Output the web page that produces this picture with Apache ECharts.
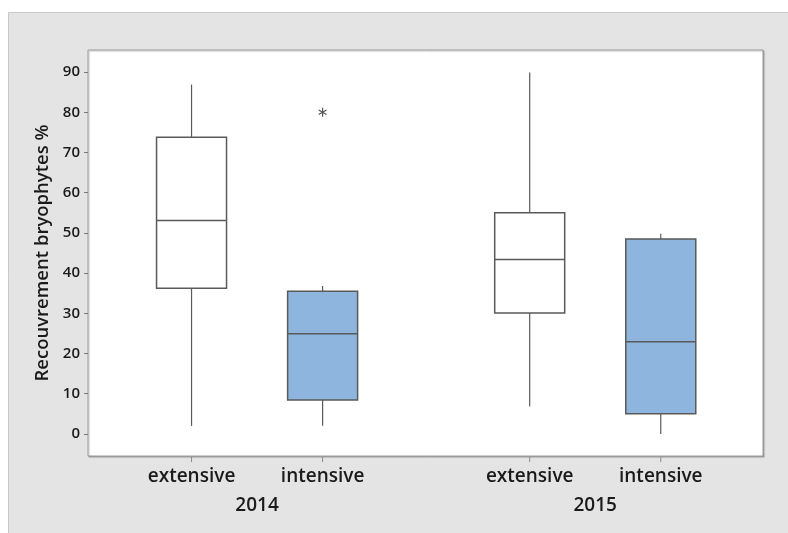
<!DOCTYPE html>
<html>
<head>
<meta charset="utf-8">
<script src="https://cdn.jsdelivr.net/npm/echarts@6/dist/echarts.min.js"></script>
<style>
  html, body { margin: 0; padding: 0; background: #ffffff; }
  #chart { width: 788px; height: 533px; }
</style>
</head>
<body>
<div id="chart"></div>
<script>
// Groups and their positions along the horizontal value axis
const categories = ['extensive', 'intensive', 'extensive', 'intensive'];
const positions = [1, 2, 3.58, 4.58];
const years = ['2014', '2015'];
const yearPositions = [1.5, 4.08];
const treatment = ['extensive', 'intensive', 'extensive', 'intensive'];

// Five-number summaries per box: [lower whisker, Q1, median, Q3, upper whisker]
const lowerWhisker = [2.0, 2.0, 6.8, 0.0];
const q1 = [36.2, 8.4, 30.1, 5.0];
const median = [53.1, 24.9, 43.4, 22.9];
const q3 = [73.8, 35.5, 55.0, 48.5];
const upperWhisker = [86.9, 36.8, 89.9, 49.8];

// Outliers: [position, value]
const outlierPos = [2];
const outlierVal = [80];

const yTicks = [0, 10, 20, 30, 40, 50, 60, 70, 80, 90];
const Y_MIN = -5.5;
const Y_MAX = 95.5;

const FONT = "'Open Sans', 'Noto Sans', sans-serif";
const TEXT = '#1a1a1a';
const LINE = '#5a5a5a';
const FILL_INT = '#8db5de';

const boxData = positions.map((p, i) => [p, lowerWhisker[i], q1[i], median[i], q3[i], upperWhisker[i], i]);
const outlierData = outlierPos.map((p, i) => [p, outlierVal[i]]);

const chart = echarts.init(document.getElementById('chart'), null, { renderer: 'canvas' });

const HALF_BOX = 0.267; // half box width, in axis units

function renderBox(params, api) {
  const x = api.value(0);
  const idx = api.value(6);
  const pLow = api.coord([x, api.value(1)]);
  const pQ1 = api.coord([x, api.value(2)]);
  const pMed = api.coord([x, api.value(3)]);
  const pQ3 = api.coord([x, api.value(4)]);
  const pHigh = api.coord([x, api.value(5)]);
  const pBase = api.coord([x, Y_MIN]);
  const left = api.coord([x - HALF_BOX, 0])[0];
  const right = api.coord([x + HALF_BOX, 0])[0];
  const fill = treatment[idx] === 'intensive' ? FILL_INT : '#ffffff';
  const lineStyle = { stroke: LINE, lineWidth: 1.2 };
  return {
    type: 'group',
    children: [
      // category tick below the plot frame
      { type: 'line', shape: { x1: pBase[0], y1: pBase[1] + 1, x2: pBase[0], y2: pBase[1] + 6 },
        style: { stroke: '#8a8a8a', lineWidth: 1 } },
      { type: 'line', shape: { x1: pQ3[0], y1: pHigh[1], x2: pQ3[0], y2: pQ3[1] }, style: lineStyle },
      { type: 'line', shape: { x1: pQ1[0], y1: pQ1[1], x2: pQ1[0], y2: pLow[1] }, style: lineStyle },
      { type: 'rect', shape: { x: left, y: pQ3[1], width: right - left, height: pQ1[1] - pQ3[1] },
        style: { fill: fill, stroke: LINE, lineWidth: 1.5 } },
      { type: 'line', shape: { x1: left, y1: pMed[1], x2: right, y2: pMed[1] },
        style: { stroke: LINE, lineWidth: 1.5 } }
    ]
  };
}

function renderAsterisk(params, api) {
  const c = api.coord([api.value(0), api.value(1)]);
  const r = 4.5;
  const d = r * 0.87;
  const st = { stroke: '#555555', lineWidth: 1.2 };
  return {
    type: 'group',
    children: [
      { type: 'line', shape: { x1: c[0], y1: c[1] - r, x2: c[0], y2: c[1] + r }, style: st },
      { type: 'line', shape: { x1: c[0] - d, y1: c[1] - r / 2, x2: c[0] + d, y2: c[1] + r / 2 }, style: st },
      { type: 'line', shape: { x1: c[0] - d, y1: c[1] + r / 2, x2: c[0] + d, y2: c[1] - r / 2 }, style: st }
    ]
  };
}

const option = {
  backgroundColor: '#ffffff',
  animation: false,
  graphic: [
    {
      type: 'rect', z: -10, silent: true,
      shape: { x: 8.5, y: 12.5, width: 800, height: 540 },
      style: { fill: '#e4e4e4', stroke: '#c8c8c8', lineWidth: 1 }
    }
  ],
  grid: {
    left: 88, top: 50, right: 25, bottom: 77,
    show: true, backgroundColor: '#ffffff', borderColor: '#9a9a9a', borderWidth: 1,
    shadowColor: 'rgba(0,0,0,0.25)', shadowOffsetX: 1, shadowOffsetY: 1, shadowBlur: 1
  },
  xAxis: [
    {
      type: 'value', min: 0.21, max: 5.36,
      axisLine: { show: false, onZero: false },
      splitLine: { show: false },
      axisTick: { show: false },
      axisLabel: {
        customValues: positions,
        margin: 11,
        fontFamily: FONT, fontSize: 19, fontWeight: 600, color: TEXT,
        formatter: v => categories[positions.indexOf(v)]
      }
    },
    {
      type: 'value', min: 0.21, max: 5.36, position: 'bottom', offset: 29,
      axisLine: { show: false, onZero: false }, axisTick: { show: false }, splitLine: { show: false },
      axisLabel: {
        customValues: yearPositions,
        margin: 11,
        fontFamily: FONT, fontSize: 19, fontWeight: 600, color: TEXT,
        formatter: v => years[yearPositions.indexOf(v)]
      }
    }
  ],
  yAxis: {
    type: 'value', min: Y_MIN, max: Y_MAX,
    name: 'Recouvrement bryophytes %',
    nameLocation: 'middle', nameGap: 36,
    nameTextStyle: { fontFamily: FONT, fontSize: 18.5, fontWeight: 600, color: TEXT },
    axisLine: { show: false, onZero: false },
    splitLine: { show: false },
    axisTick: { show: true, length: 4, lineStyle: { color: '#777777' }, customValues: yTicks },
    axisLabel: {
      customValues: yTicks, margin: 8,
      fontFamily: FONT, fontSize: 15, fontWeight: 600, color: TEXT
    }
  },
  series: [
    {
      type: 'custom', xAxisIndex: 0, clip: false,
      renderItem: renderBox,
      encode: { x: 0, y: [1, 2, 3, 4, 5] },
      data: boxData
    },
    {
      type: 'custom', xAxisIndex: 0,
      renderItem: renderAsterisk,
      encode: { x: 0, y: 1 },
      data: outlierData
    }
  ]
};

chart.setOption(option);
</script>
</body>
</html>
